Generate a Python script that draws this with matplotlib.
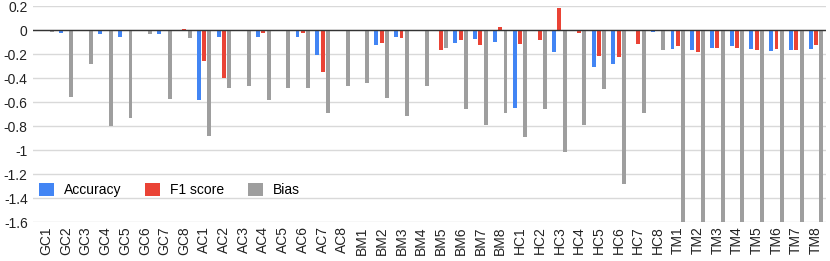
import numpy as np
import matplotlib
matplotlib.use("Agg")
import matplotlib.pyplot as plt

plt.rcParams['font.family'] = ['Liberation Sans', 'DejaVu Sans']

# categories: 5 groups of 8
labels = [f"{g}{i}" for g in ["GC", "AC", "BM", "HC", "TM"] for i in range(1, 9)]

accuracy = [
    0.0, -0.025, -0.005, -0.03, -0.055, 0.0, -0.03, 0.0,          # GC
    -0.58, -0.055, 0.0, -0.055, 0.0, -0.055, -0.21, 0.0,          # AC
    0.0, -0.125, -0.055, 0.0, 0.0, -0.105, -0.075, -0.097,        # BM
    -0.647, 0.0, -0.18, 0.0, -0.31, -0.28, 0.0, -0.02,            # HC
    -0.155, -0.167, -0.147, -0.133, -0.158, -0.178, -0.167, -0.155,  # TM
]
f1_score = [
    0.0, 0.0, 0.0, 0.0, -0.005, 0.0, 0.0, 0.01,
    -0.26, -0.40, 0.0, -0.025, 0.0, -0.028, -0.35, 0.0,
    0.0, -0.105, -0.067, 0.0, -0.167, -0.083, -0.125, 0.028,
    -0.117, -0.083, 0.18, -0.025, -0.217, -0.228, -0.117, -0.005,
    -0.133, -0.186, -0.147, -0.147, -0.167, -0.158, -0.167, -0.125,
]
bias = [
    -0.015, -0.555, -0.28, -0.80, -0.735, -0.03, -0.575, -0.07,
    -0.88, -0.485, -0.465, -0.58, -0.485, -0.485, -0.695, -0.465,
    -0.44, -0.57, -0.715, -0.465, -0.147, -0.655, -0.79, -0.695,
    -0.89, -0.655, -1.02, -0.79, -0.49, -1.28, -0.695, -0.167,
    -1.75, -1.75, -1.75, -1.75, -1.75, -1.75, -1.75, -1.75,
]

fig = plt.figure(figsize=(8.3, 2.61), dpi=100)
ax = fig.add_axes([0.04, 0.149, 0.955, 0.828])

x = np.arange(len(labels))
w = 0.2
off = 0.27
ax.bar(x - off, accuracy, w, color="#4285F4", label="Accuracy", zorder=3)
ax.bar(x, f1_score, w, color="#EA4335", label="F1 score", zorder=3)
ax.bar(x + off, bias, w, color="#9E9E9E", label="Bias", zorder=3)

ax.set_ylim(-1.6, 0.2)
ax.set_xlim(-0.66, len(labels) - 0.5)
ax.set_yticks(np.arange(-1.6, 0.21, 0.2))
ax.set_yticklabels(["-1.6", "-1.4", "-1.2", "-1", "-0.8", "-0.6", "-0.4", "-0.2", "0", "0.2"])
ax.set_xticks(x)
ax.set_xticklabels(labels, rotation=90)
ax.tick_params(axis="both", length=0, labelsize=10, colors="#222222")
ax.tick_params(axis="y", pad=4)
ax.tick_params(axis="x", pad=3)
ax.grid(axis="y", color="#D9D9D9", linewidth=1, zorder=0)
ax.axhline(0, color="#333333", linewidth=1, zorder=4)
for s in ax.spines.values():
    s.set_visible(False)

# legend placed in figure coords, just like the sheet's inline legend
ax.legend(loc="center left", bbox_to_anchor=(39 / 830, 1 - 190 / 261),
          bbox_transform=fig.transFigure, ncol=3, frameon=False,
          fontsize=10, handlelength=1.05, handleheight=1.05, columnspacing=1.75,
          handletextpad=0.72, borderpad=0, borderaxespad=0)

fig.savefig("out.png", dpi=100)
